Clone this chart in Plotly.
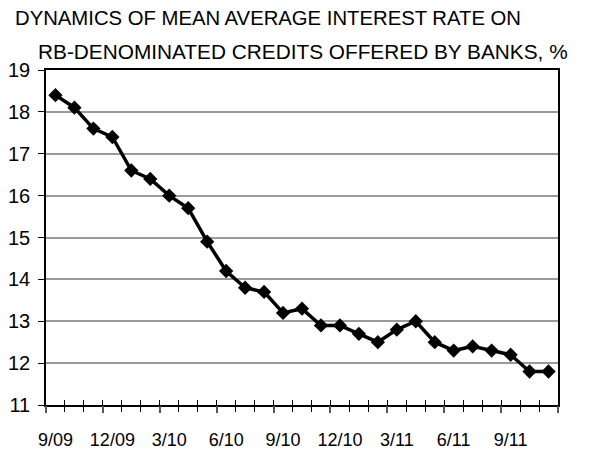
import plotly.graph_objects as go

months = ["9/09", "10/09", "11/09", "12/09", "1/10", "2/10", "3/10", "4/10", "5/10",
          "6/10", "7/10", "8/10", "9/10", "10/10", "11/10", "12/10", "1/11", "2/11",
          "3/11", "4/11", "5/11", "6/11", "7/11", "8/11", "9/11", "10/11", "11/11"]
rates = [18.4, 18.1, 17.6, 17.4, 16.6, 16.4, 16.0, 15.7, 14.9,
         14.2, 13.8, 13.7, 13.2, 13.3, 12.9, 12.9, 12.7, 12.5,
         12.8, 13.0, 12.5, 12.3, 12.4, 12.3, 12.2, 11.8, 11.8]
title_lines = ["DYNAMICS OF MEAN AVERAGE INTEREST RATE ON",
               "RB-DENOMINATED CREDITS OFFERED BY BANKS, %"]

FONT = "Arial, 'Liberation Sans', sans-serif"
n = len(months)
xs = list(range(n))
label_idx = list(range(0, n, 3))
boundaries = [i - 0.5 for i in range(n + 1)]
major_bounds = [i - 0.5 for i in range(0, n + 1, 3)]

fig = go.Figure()
fig.add_trace(go.Scatter(
    x=xs, y=rates, mode="lines+markers",
    line=dict(color="black", width=3.5),
    marker=dict(symbol="diamond", size=11, color="black"),
    showlegend=False, hoverinfo="skip"))
# invisible traces to activate overlay axes
fig.add_trace(go.Scatter(x=[xs[0]], y=[rates[0]], xaxis="x2", mode="markers",
                         marker=dict(opacity=0), showlegend=False, hoverinfo="skip"))
fig.add_trace(go.Scatter(x=[xs[0]], y=[rates[0]], xaxis="x3", mode="markers",
                         marker=dict(opacity=0), showlegend=False, hoverinfo="skip"))

rng = [-0.5, n - 0.5]
fig.update_layout(
    width=595, height=449,
    margin=dict(l=46, r=37, t=70, b=44, autoexpand=False),
    paper_bgcolor="white", plot_bgcolor="white",
    font=dict(family=FONT, color="black"),
    xaxis=dict(range=rng, tickmode="array", tickvals=[xs[i] for i in label_idx],
               ticktext=[months[i] for i in label_idx], ticks="", automargin=False,
               showgrid=False, zeroline=False, showline=True, linecolor="black",
               linewidth=1.5, mirror=True, ticklabelstandoff=18,
               tickfont=dict(size=18, family=FONT),
               minor=dict(tickmode="array", tickvals=boundaries, ticks="outside",
                          ticklen=5, tickcolor="black", tickwidth=1, showgrid=False)),
    xaxis2=dict(range=rng, overlaying="x", anchor="y", side="bottom", automargin=False,
                tickmode="array", tickvals=boundaries, ticks="inside", ticklen=5,
                tickcolor="black", tickwidth=1, showticklabels=False,
                showgrid=False, zeroline=False, showline=False),
    xaxis3=dict(range=rng, overlaying="x", anchor="y", side="bottom", automargin=False,
                tickmode="array", tickvals=major_bounds, ticks="outside", ticklen=7,
                tickcolor="#555", tickwidth=1.5, showticklabels=False,
                showgrid=False, zeroline=False, showline=False),
    yaxis=dict(range=[11, 19], dtick=1, tick0=11, showgrid=True, gridcolor="#9a9a9a",
               gridwidth=1.5, zeroline=False, showline=True, linecolor="black",
               linewidth=1.5, mirror=True, ticks="outside", ticklen=6, automargin=False,
               tickcolor="black", ticklabelstandoff=4,
               tickfont=dict(size=20, family=FONT)),
    annotations=[
        dict(text=title_lines[0], xref="paper", yref="paper",
             x=(13 - 46) / 512, y=(405 - 18) / 335, xanchor="left", yanchor="middle",
             showarrow=False, font=dict(size=20.3, family=FONT)),
        dict(text=title_lines[1], xref="paper", yref="paper",
             x=(36 - 46) / 512, y=(405 - 52) / 335, xanchor="left", yanchor="middle",
             showarrow=False, font=dict(size=20.8, family=FONT)),
    ],
)
fig.write_html("out.html")
